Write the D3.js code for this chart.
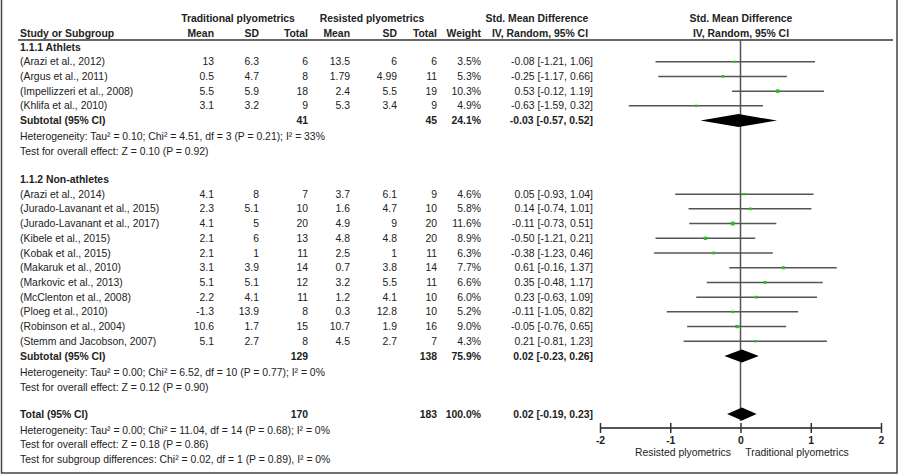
<!DOCTYPE html>
<html><head><meta charset="utf-8">
<script src="https://cdn.jsdelivr.net/npm/d3@7"></script>
<style>body{margin:0;background:#fff;} svg{display:block;font-family:"Liberation Sans",Arial,sans-serif;}</style>
</head><body><svg id="c" width="900" height="475"></svg>
<script>
// ---- data ----
const athStudies = ["(Arazi et al., 2012)","(Argus et al., 2011)","(Impellizzeri et al., 2008)","(Khlifa et al., 2010)"];
const athTrad = [[13,6.3,6],[0.5,4.7,8],[5.5,5.9,18],[3.1,3.2,9]];
const athRes = [[13.5,6,6],[1.79,4.99,11],[2.4,5.5,19],[5.3,3.4,9]];
const athWeight = [3.5,5.3,10.3,4.9];
const athSMD = [[-0.08,-1.21,1.06],[-0.25,-1.17,0.66],[0.53,-0.12,1.19],[-0.63,-1.59,0.32]];

const nonStudies = ["(Arazi et al., 2014)","(Jurado-Lavanant et al., 2015)","(Jurado-Lavanant et al., 2017)","(Kibele et al., 2015)","(Kobak et al., 2015)","(Makaruk et al., 2010)","(Markovic et al., 2013)","(McClenton et al., 2008)","(Ploeg et al., 2010)","(Robinson et al., 2004)","(Stemm and Jacobson, 2007)"];
const nonTrad = [[4.1,8,7],[2.3,5.1,10],[4.1,5,20],[2.1,6,13],[2.1,1,11],[3.1,3.9,14],[5.1,5.1,12],[2.2,4.1,11],[-1.3,13.9,8],[10.6,1.7,15],[5.1,2.7,8]];
const nonRes = [[3.7,6.1,9],[1.6,4.7,10],[4.9,9,20],[4.8,4.8,20],[2.5,1,11],[0.7,3.8,14],[3.2,5.5,11],[1.2,4.1,10],[0.3,12.8,10],[10.7,1.9,16],[4.5,2.7,7]];
const nonWeight = [4.6,5.8,11.6,8.9,6.3,7.7,6.6,6.0,5.2,9.0,4.3];
const nonSMD = [[0.05,-0.93,1.04],[0.14,-0.74,1.01],[-0.11,-0.73,0.51],[-0.50,-1.21,0.21],[-0.38,-1.23,0.46],[0.61,-0.16,1.37],[0.35,-0.48,1.17],[0.23,-0.63,1.09],[-0.11,-1.05,0.82],[-0.05,-0.76,0.65],[0.21,-0.81,1.23]];

const subtotals = [
  {label:"Subtotal (95% CI)", nT:41, nR:45, w:"24.1%", smd:[-0.03,-0.57,0.52]},
  {label:"Subtotal (95% CI)", nT:129, nR:138, w:"75.9%", smd:[0.02,-0.23,0.26]},
  {label:"Total (95% CI)", nT:170, nR:183, w:"100.0%", smd:[0.02,-0.19,0.23]}
];
const athNotes = ["Heterogeneity: Tau² = 0.10; Chi² = 4.51, df = 3 (P = 0.21); I² = 33%","Test for overall effect: Z = 0.10 (P = 0.92)"];
const nonNotes = ["Heterogeneity: Tau² = 0.00; Chi² = 6.52, df = 10 (P = 0.77); I² = 0%","Test for overall effect: Z = 0.12 (P = 0.90)"];
const totNotes = ["Heterogeneity: Tau² = 0.00; Chi² = 11.04, df = 14 (P = 0.68); I² = 0%","Test for overall effect: Z = 0.18 (P = 0.86)","Test for subgroup differences: Chi² = 0.02, df = 1 (P = 0.89), I² = 0%"];
const groupLabels = ["1.1.1 Athlets","1.1.2 Non-athletes"];
const xTicks = [-2,-1,0,1,2];
const axisLabels = ["Resisted plyometrics","Traditional plyometrics"];

// ---- layout ----
const svg = d3.select("#c");
const x = d3.scaleLinear().domain([-2,2]).range([600,881]);
const y = d3.scaleLinear().domain([0,28]).range([47,459]);
const col = {trM:214, trS:259, trT:308, reM:350, reS:397, reT:437, w:481, ci:593};
const fmt = v => v.toFixed(2);
const ciText = s => `${fmt(s[0])} [${fmt(s[1])}, ${fmt(s[2])}]`;
const txtColor = "#222";
const FS = 10.4;

function text(xp, yp, str, opts={}) {
  return svg.append("text").attr("x", xp).attr("y", yp).attr("dy","0.35em")
    .attr("font-size", opts.size || FS).attr("fill", txtColor)
    .attr("font-weight", opts.bold ? "bold" : "normal")
    .attr("text-anchor", opts.anchor || "start").text(str);
}

// border
svg.append("path").attr("d","M1.5,0 V473 H897 V0").attr("fill","none").attr("stroke","#444").attr("stroke-width",1.5);

// headers
text(238,18,"Traditional plyometrics",{bold:true,anchor:"middle"});
text(372,18,"Resisted plyometrics",{bold:true,anchor:"middle"});
text(537,18,"Std. Mean Difference",{bold:true,anchor:"middle"});
text(741,18,"Std. Mean Difference",{bold:true,anchor:"middle"});
text(20,33,"Study or Subgroup",{bold:true});
[["Mean",col.trM],["SD",col.trS],["Total",col.trT],["Mean",col.reM],["SD",col.reS],["Total",col.reT],["Weight",col.w]].forEach(d=>text(d[1],33,d[0],{bold:true,anchor:"end"}));
text(540,33,"IV, Random, 95% CI",{bold:true,anchor:"middle"});
text(741,33,"IV, Random, 95% CI",{bold:true,anchor:"middle"});
svg.append("line").attr("x1",18).attr("x2",893).attr("y1",40).attr("y2",40).attr("stroke","#666").attr("stroke-width",2);

// zero line
svg.append("line").attr("x1",x(0)).attr("x2",x(0)).attr("y1",40).attr("y2",421).attr("stroke","#555").attr("stroke-width",1.5);

function studyRows(names, trad, res, weight, smd, startRow) {
  names.forEach((n,i)=>{
    const yp = y(startRow+i);
    text(20,yp,n);
    text(col.trM,yp,trad[i][0],{anchor:"end"});
    text(col.trS,yp,trad[i][1],{anchor:"end"});
    text(col.trT,yp,trad[i][2],{anchor:"end"});
    text(col.reM,yp,res[i][0],{anchor:"end"});
    text(col.reS,yp,res[i][1],{anchor:"end"});
    text(col.reT,yp,res[i][2],{anchor:"end"});
    text(col.w,yp,weight[i].toFixed(1)+"%",{anchor:"end"});
    text(col.ci,yp,ciText(smd[i]),{anchor:"end"});
    svg.append("line").attr("x1",x(smd[i][1])).attr("x2",x(smd[i][2])).attr("y1",yp).attr("y2",yp)
      .attr("stroke","#555").attr("stroke-width",1.5);
    const s = 1.1*Math.sqrt(weight[i]);
    svg.append("rect").attr("x",x(smd[i][0])-s/2).attr("y",yp-s/2).attr("width",s).attr("height",s).attr("fill","#1fc41f");
  });
}
function subtotalRow(st, row, yOverride) {
  const yp = yOverride || y(row);
  text(20,yp,st.label,{bold:true});
  text(col.trT,yp,st.nT,{bold:true,anchor:"end"});
  text(col.reT,yp,st.nR,{bold:true,anchor:"end"});
  text(col.w,yp,st.w,{bold:true,anchor:"end"});
  text(col.ci,yp,ciText(st.smd),{bold:true,anchor:"end"});
  const h = 6.5;
  svg.append("path").attr("d",`M${x(st.smd[1])},${yp} L${x(st.smd[0])},${yp-h} L${x(st.smd[2])},${yp} L${x(st.smd[0])},${yp+h} Z`).attr("fill","#000");
}
function notes(arr, row, off) {
  arr.forEach((t,i)=>text(20,y(row+i)+off,t));
}

text(20,y(0),groupLabels[0],{bold:true});
studyRows(athStudies, athTrad, athRes, athWeight, athSMD, 1);
subtotalRow(subtotals[0],5);
notes(athNotes,6,1.5);
text(20,y(9),groupLabels[1],{bold:true});
studyRows(nonStudies, nonTrad, nonRes, nonWeight, nonSMD, 10);
subtotalRow(subtotals[1],21);
notes(nonNotes,22,2);
subtotalRow(subtotals[2],25,414);
notes(totNotes,26,0.5);

// axis
const ax = svg.append("g").attr("transform","translate(0,428)")
  .call(d3.axisBottom(x).tickValues(xTicks).tickFormat(d => String(d)).tickSize(5).tickPadding(4));
ax.select(".domain").attr("stroke","#555").attr("stroke-width",2).attr("d",`M${x(-2)},0H${x(2)}`);
ax.selectAll(".tick line").attr("y1",-5).attr("y2",5).attr("stroke","#333").attr("stroke-width",1.5);
ax.selectAll(".tick text").attr("font-size",FS).attr("font-weight","bold").attr("fill",txtColor).attr("font-family","Liberation Sans, Arial, sans-serif");
text(683,452,axisLabels[0],{anchor:"middle"});
text(797,452,axisLabels[1],{anchor:"middle"});
</script></body></html>
